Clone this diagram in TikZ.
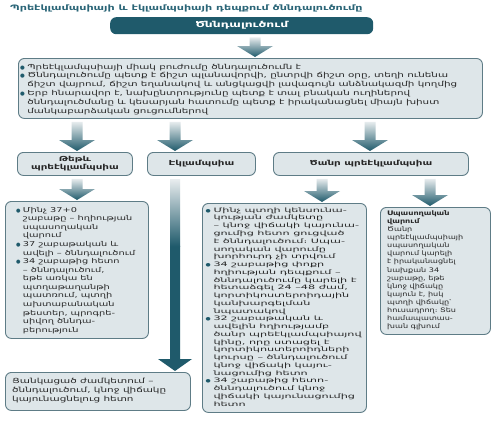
\documentclass[tikz,border=0pt]{standalone}
\usepackage{graphicx}
\usepackage{fontspec}
\setmainfont{DejaVu Sans}[FakeStretch=1.5]
\newfontfamily\plainfont{DejaVu Sans}
\usetikzlibrary{calc}
\definecolor{teal1}{HTML}{1F5A6B}
\definecolor{titlec}{HTML}{2A6577}
\definecolor{boxfill}{HTML}{DEE6E9}
\definecolor{boxline}{HTML}{5E7C86}
\definecolor{fade}{HTML}{E6EBED}
\newcommand\B{\textcolor{teal1}{\plainfont\fontsize{5.5}{5}\selectfont●}}
% text block scaled to a measured width and height
\newcommand\tblock[3]{\resizebox*{#1}{#2}{\fontsize{7}{9}\selectfont\begin{tabular}{@{}l@{\hspace{2.5pt}}l@{}}#3\end{tabular}}}
\newcommand\pblock[3]{\resizebox*{#1}{#2}{\fontsize{7}{9}\selectfont\begin{tabular}{@{}l@{}}#3\end{tabular}}}
\newcommand\barrow[3]{%
  \shade[top color=fade, middle color=teal1, bottom color=teal1] let \p1=(#2.south), \p2=(#3.north) in
  (#1pt-5.5pt,\y1-3pt) -- (#1pt+5.5pt,\y1-3pt) -- (#1pt+5.5pt,\y2+12pt) -- (#1pt+18pt,\y2+12pt) --
  (#1pt,\y2+1pt) -- (#1pt-18pt,\y2+12pt) -- (#1pt-5.5pt,\y2+12pt) -- cycle;}
\tikzset{
  box/.style={draw=boxline, line width=0.9pt, fill=boxfill, rounded corners=6pt, inner sep=0pt, anchor=north west},
  txt/.style={inner sep=0pt, anchor=north west, text=black!85},
  lbl/.style={font=\fontsize{6.9}{8}\selectfont\bfseries, align=center, text=black!85},
}
\begin{document}
\begin{tikzpicture}[x=1pt,y=-1pt]
\useasboundingbox[fill=white] (0,0) rectangle (494,423);
% title
\node[inner sep=0pt, anchor=west, text=titlec, font=\fontsize{7.45}{8}\selectfont\bfseries] (title) at (10,8) {Պրեէկլամպսիայի և էկլամպսիայի դեպքում ծննդալուծումը};
% top box
\node[fill=teal1, rounded corners=6pt, minimum width=263pt, minimum height=17pt, inner sep=0pt, anchor=north west,
      text=white, font=\fontsize{8.2}{8}\selectfont\bfseries] (top) at (110,17) {Ծննդալուծում};
% main box
\node[box, minimum width=464pt, minimum height=60pt] (main) at (18,58) {};
\node[txt] (maintxt) at ($(main.north west)+(2pt,-4.8pt)$) {\tblock{437pt}{52.8pt}{%
\B & Պրեէկլամպսիայի միակ բուժումը ծննդալուծումն է\\
\B & Ծննդալուծումը պետք է ճիշտ պլանավորվի, ընտրվի ճիշտ օրը, տեղի ունենա\\
   & ճիշտ վայրում, ճիշտ եղանակով և անցկացվի լավագույն անձնակազմի կողմից\\
\B & Երբ հնարավոր է, նախընտրությունը պետք է տալ բնական ուղիներով\\
   & ծննդալուծմանը և կեսարյան հատումը պետք է իրականացնել միայն խիստ\\
   & մանկաբարձական ցուցումներով}};
% row 2
\node[box, minimum width=115pt, minimum height=23pt] (mild) at (17,152) {};
\node[lbl] (mildt) at (mild.center) {Թեթև\\պրեէկլամպսիա};
\node[box, minimum width=108pt, minimum height=23pt] (ekl) at (147,152) {};
\node[lbl] (eklt) at (ekl.center) {Էկլամպսիա};
\node[box, minimum width=195pt, minimum height=23pt] (sev) at (273,152) {};
\node[lbl] (sevt) at (sev.center) {Ծանր պրեէկլամպսիա};
% row 3
\node[box, minimum width=143pt, minimum height=137pt] (lbox) at (5,201) {};
\node[txt] (ltxt) at ($(lbox.north west)+(11pt,-5pt)$) {\tblock{119pt}{128.6pt}{%
\B & Մինչ 37+0\\ & շաբաթը – հղիության\\ & սպասողական\\ & վարում\\
\B & 37 շաբաթական և\\ & ավելի – ծննդալուծում\\
\B & 34 շաբաթից հետո\\ & – ծննդալուծում,\\ & եթե առկա են\\ & պտղաթաղանթի\\ & պատռում, պտղի\\ & ախտաբանական\\ & թեստեր, պրոգրե-\\ & սիվող ծննդա-\\ & բերություն}};
\node[box, minimum width=164pt, minimum height=209pt] (mbox) at (202,203) {};
\node[txt] (mtxt) at ($(mbox.north west)+(3.5pt,-3.6pt)$) {\tblock{156pt}{201.8pt}{%
\B & Մինչ պտղի կենսունա-\\ & կության ժամկետը\\ & – կնոջ վիճակի կայունա-\\ & ցումից հետո ցուցված\\ & է ծննդալուծում։ Սպա-\\ & սողական վարումը\\ & խորհուրդ չի տրվում\\
\B & 34 շաբաթից փոքր\\ & հղիության դեպքում –\\ & ծննդալուծումը կարելի է\\ & հետաձգել 24 –48 ժամ,\\ & կորտիկոստերոիդային\\ & կանխարգելման\\ & նպատակով\\
\B & 32 շաբաթական և\\ & ավելին հղիությամբ\\ & ծանր պրեէկլամպսիայով\\ & կինը, որը ստացել է\\ & կորտիկոստերոիդների\\ & կուրսը – ծննդալուծում\\ & կնոջ վիճակի կայու-\\ & նացումից հետո\\
\B & 34 շաբաթից հետո-\\ & ծննդալուծում կնոջ\\ & վիճակի կայունացումից\\ & հետո}};
\node[box, minimum width=110pt, minimum height=127pt] (rbox) at (380,207) {};
\node[txt] (rtxt) at ($(rbox.north west)+(7pt,-3pt)$) {\pblock{76pt}{120.4pt}{%
\textbf{Սպասողական}\\ \textbf{վարում}\\ Ծանր\\ պրեէկլամպսիայի\\ սպասողական\\ վարում կարելի\\ է իրականացնել\\ նախքան 34\\ շաբաթը, եթե\\ կնոջ վիճակը\\ կայուն է, իսկ\\ պտղի վիճակը՝\\ հուսադրող։ Տես\\ համապատաս-\\ խան գլխում}};
\node[box, minimum width=185pt, minimum height=38pt] (bot) at (5,372) {};
\node[txt] (btxt) at ($(bot.north west)+(7pt,-4.7pt)$) {\pblock{154pt}{27pt}{%
Ցանկացած ժամկետում –\\ ծննդալուծում, կնոջ վիճակը\\ կայունացնելուց հետո}};
% arrows
\barrow{255}{top}{main}
\barrow{77}{main}{mild}
\barrow{175}{main}{ekl}
\barrow{370}{main}{sev}
\barrow{77}{mild}{lbox}
\barrow{322}{sev}{mbox}
\barrow{430}{sev}{rbox}
% long arrow
\fill[teal1] let \p1=(ekl.south), \p2=(bot.north) in
  (175pt-5pt,\y1-70pt) -- (175pt+5pt,\y1-70pt) -- (175pt+5pt,\y2+13pt) -- (175pt+17pt,\y2+13pt) --
  (175pt,\y2+1pt) -- (175pt-17pt,\y2+13pt) -- (175pt-5pt,\y2+13pt) -- cycle;
\shade[top color=fade, bottom color=teal1] let \p1=(ekl.south) in
  (175pt-5pt,\y1-4pt) rectangle (175pt+5pt,\y1-70.5pt);
\end{tikzpicture}
\end{document}
